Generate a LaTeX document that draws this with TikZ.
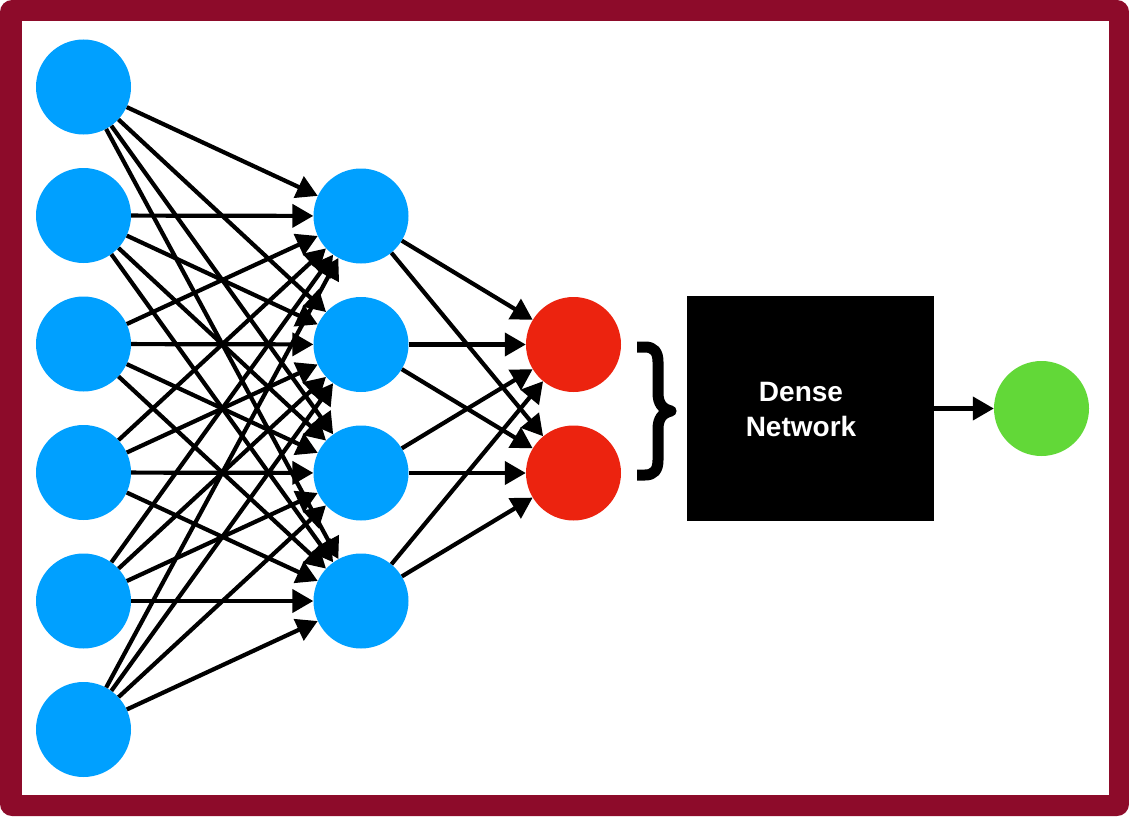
\documentclass[tikz,border=0pt]{standalone}
\usepackage{fontspec}
\setmainfont{Liberation Sans}
\usetikzlibrary{arrows.meta}
\definecolor{framered}{HTML}{8D0B2A}
\definecolor{nodeblue}{HTML}{00A0FF}
\definecolor{nodered}{HTML}{EC230F}
\definecolor{nodegreen}{HTML}{62D838}
\begin{document}
\begin{tikzpicture}[x=1pt,y=-1pt,
  neuron/.style={circle,inner sep=0pt,minimum size=95pt,draw=none},
  inputn/.style={neuron,fill=nodeblue},
  hiddenn/.style={neuron,fill=nodeblue},
  featn/.style={neuron,fill=nodered},
  outn/.style={neuron,fill=nodegreen},
  conn/.style={line width=4.2pt,-{Triangle[length=21pt,width=23pt]}},
  densebox/.style={fill=black,draw=none,minimum width=247pt,minimum height=225pt,inner sep=0pt},
  denselabel/.style={text=white,font=\bfseries\fontsize{28}{35}\selectfont,align=center,inner sep=0pt}]
\useasboundingbox (0,0) rectangle (1129,816);
% frame
\fill[framered,rounded corners=12pt] (0,0) rectangle (1129,816);
\fill[white] (22,21) rectangle (1109,795);

% input layer
\foreach \i/\y in {1/87,2/215.5,3/344,4/472.5,5/601,6/729.5}
  \node[inputn] (in\i) at (83.5,\y) {};
% hidden layer
\foreach \j/\y in {1/216,2/344.5,3/473,4/601}
  \node[hiddenn] (h\j) at (361,\y) {};
% feature layer
\foreach \k/\y in {1/344.5,2/473}
  \node[featn] (f\k) at (573.5,\y) {};

% connections
\foreach \i in {1,...,6}
  \foreach \j in {1,...,4}
    \draw[conn] (in\i) -- (h\j);
\foreach \j in {1,...,4}
  \foreach \k in {1,2}
    \draw[conn] (h\j) -- (f\k);

% brace
\draw[line width=11pt,line cap=butt,line join=round]
  (637,347) -- (645,347) .. controls (654,347) and (658,352) .. (658,362)
  -- (658,393) .. controls (658,403) and (662,409) .. (671,411)
  .. controls (662,413) and (658,419) .. (658,429)
  -- (658,460) .. controls (658,470) and (654,475) .. (645,475) -- (637,475);

% dense network and output
\node[densebox] (dense) at (810.5,408.5) {};
\node[denselabel] (denselbl) at (801,409) {Dense\\Network};
\node[outn] (out) at (1041.5,408.5) {};
\draw[conn] (dense) -- (out);
\end{tikzpicture}
\end{document}
